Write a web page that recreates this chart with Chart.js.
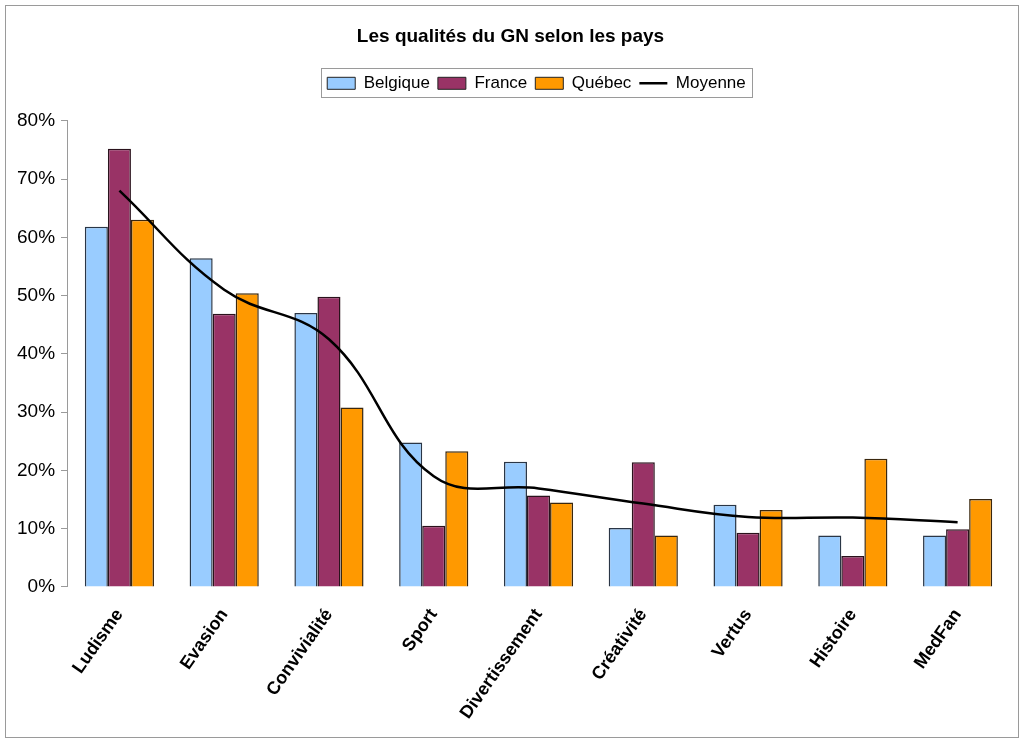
<!DOCTYPE html>
<html>
<head>
<meta charset="utf-8">
<script src="https://cdn.jsdelivr.net/npm/chart.js@4/dist/chart.umd.min.js"></script>
<style>
  body { margin: 0; background: #fff; }
  #wrap { width: 1024px; height: 743px; }
</style>
</head>
<body>
<div id="wrap"><canvas id="graphique" width="1024" height="743"></canvas></div>
<script>
// données
const categories = ['Ludisme', 'Evasion', 'Convivialité', 'Sport', 'Divertissement', 'Créativité', 'Vertus', 'Histoire', 'MedFan'];
const belgique = [61.8, 56.4, 47.0, 24.8, 21.5, 10.1, 14.1, 8.8, 8.8];
const france   = [75.2, 46.9, 49.8, 10.5, 15.7, 21.4, 9.3, 5.3, 9.9];
const quebec   = [63.0, 50.4, 30.8, 23.3, 14.5, 8.8, 13.2, 22.0, 15.1];
const moyenne  = [68.0, 51.0, 42.5, 19.0, 16.9, 14.3, 12.0, 11.9, 11.1];
const yTicks = [0, 10, 20, 30, 40, 50, 60, 70, 80];

const police = '"Liberation Sans", Arial, sans-serif';
const decalageLegende = 26; // la légende est un peu à droite du centre

// cadre extérieur + cadre autour de la légende
const cadres = {
  id: 'cadres',
  beforeInit(chart) {
    // plus d'espace sous la légende
    const leg = chart.legend;
    const fitOrig = leg.fit.bind(leg);
    leg.fit = function () { fitOrig(); this.height += 19; };
  },
  afterLayout(chart) {
    const leg = chart.legend;
    leg.left += decalageLegende;
    leg.right += decalageLegende;
    (leg.legendHitBoxes || []).forEach(b => { b.left += decalageLegende; });
  },
  beforeDraw(chart) {
    const ctx = chart.ctx;
    ctx.save();
    ctx.fillStyle = '#fff';
    ctx.fillRect(0, 0, chart.width, chart.height);
    ctx.strokeStyle = '#9a9a9a';
    ctx.lineWidth = 1;
    ctx.strokeRect(5.5, 5.5, chart.width - 11, chart.height - 11);
    ctx.restore();
  },
  afterDraw(chart) {
    const boxes = chart.legend.legendHitBoxes;
    if (!boxes || !boxes.length) return;
    let x1 = Infinity, y1 = Infinity, x2 = -Infinity, y2 = -Infinity;
    boxes.forEach(b => {
      x1 = Math.min(x1, b.left); y1 = Math.min(y1, b.top);
      x2 = Math.max(x2, b.left + b.width); y2 = Math.max(y2, b.top + b.height);
    });
    const ctx = chart.ctx;
    ctx.save();
    ctx.strokeStyle = '#9a9a9a';
    ctx.lineWidth = 1;
    ctx.strokeRect(Math.round(x1 - 6) + 0.5, Math.round(y1 - 7) + 0.5, Math.round(x2 - x1 + 12), Math.round(y2 - y1 + 12));
    ctx.restore();
  }
};

new Chart(document.getElementById('graphique'), {
  type: 'bar',
  data: {
    labels: categories,
    datasets: [
      { label: 'Belgique', data: belgique, backgroundColor: '#99ccff', borderColor: '#2a3646', borderWidth: 1.5 },
      { label: 'France', data: france, backgroundColor: '#993366', borderColor: '#2a121c', borderWidth: 1.5 },
      { label: 'Québec', data: quebec, backgroundColor: '#ff9900', borderColor: '#3a270e', borderWidth: 1.5 },
      { type: 'line', label: 'Moyenne', data: moyenne, borderColor: '#000', backgroundColor: '#000',
        borderWidth: 2.5, pointRadius: 0, tension: 0.4, order: -1 }
    ]
  },
  options: {
    responsive: false,
    animation: false,
    layout: { padding: { top: 25, left: 11, right: 14, bottom: 10 } },
    datasets: { bar: { barPercentage: 1, categoryPercentage: 0.66 } },
    plugins: {
      title: {
        display: true,
        text: 'Les qualités du GN selon les pays',
        color: '#000',
        font: { family: police, size: 19, weight: 'bold' },
        padding: { top: 0, bottom: 19 }
      },
      legend: {
        position: 'top',
        labels: {
          color: '#000',
          font: { family: police, size: 17 },
          usePointStyle: true,
          pointStyleWidth: 28,
          boxHeight: 12,
          padding: 8,
          sort: (a, b) => a.datasetIndex - b.datasetIndex,
          generateLabels(chart) {
            return chart.data.datasets.map((ds, i) => ({
              text: ds.label,
              datasetIndex: i,
              fillStyle: ds.backgroundColor,
              strokeStyle: ds.type === 'line' ? '#000' : '#222',
              lineWidth: ds.type === 'line' ? 2.5 : 1,
              pointStyle: ds.type === 'line' ? 'line' : 'rect',
              fontColor: '#000',
              hidden: false
            }));
          }
        }
      },
      tooltip: { enabled: false }
    },
    scales: {
      x: {
        grid: { display: false },
        border: { display: false },
        ticks: {
          color: '#000',
          font: { family: police, size: 18, weight: 'bold' },
          minRotation: 55,
          maxRotation: 55,
          padding: 10
        }
      },
      y: {
        min: 0,
        max: 80,
        afterBuildTicks(axis) { axis.ticks = yTicks.map(v => ({ value: v })); },
        grid: { drawOnChartArea: false, tickLength: 6, color: '#9a9a9a' },
        border: { display: true, color: '#9a9a9a' },
        ticks: {
          color: '#000',
          font: { family: police, size: 19 },
          padding: 6,
          callback: v => v + '%'
        }
      }
    }
  },
  plugins: [cadres]
});
</script>
</body>
</html>
